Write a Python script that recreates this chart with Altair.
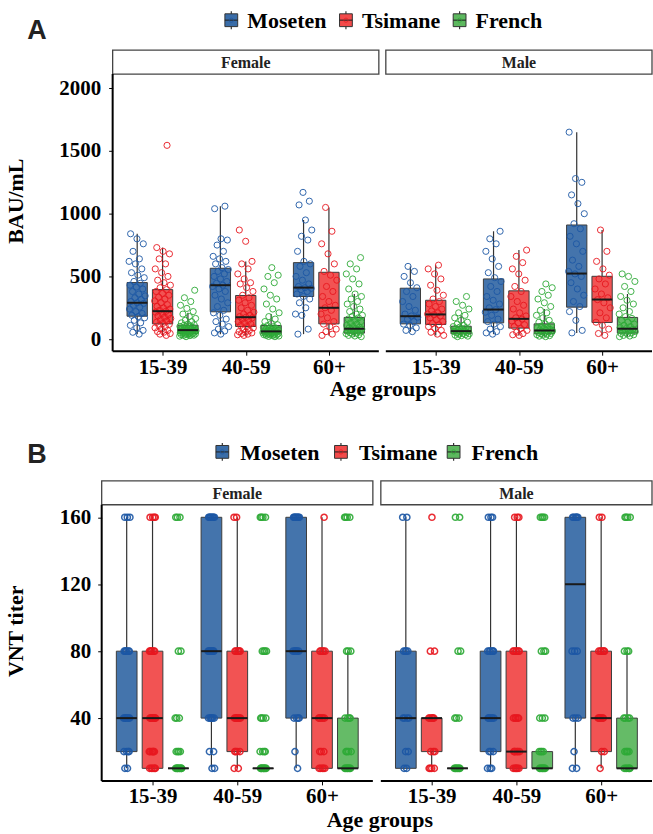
import altair as alt
import pandas as pd

SERIF = "Liberation Serif"
SANS = "Liberation Sans"

ages = ["15-39", "40-59", "60+"]
groups = ["Moseten", "Tsimane", "French"]
sexes = ["Female", "Male"]

box_colors = ["#3A6DA8", "#F24A4A", "#5DB85F"]
point_colors = ["#1C57A5", "#E8171F", "#2DAA36"]

# ---------------- Panel A : BAU/mL ----------------
# box statistics per sex, per age group: [Moseten, Tsimane, French]
a_q1 = {"Female": [[183, 122, 45], [218, 101, 43], [340, 122, 48]],
        "Male": [[122, 117, 43], [130, 88, 43], [255, 133, 48]]}
a_med = {"Female": [[290, 223, 72], [430, 175, 62], [411, 250, 83]],
         "Male": [[183, 197, 64], [236, 162, 69], [523, 316, 83]]}
a_q3 = {"Female": [[451, 395, 111], [565, 348, 109], [610, 533, 173]],
        "Male": [[406, 310, 103], [480, 385, 122], [910, 501, 173]]}
a_lo = {"Female": [[40, 30, 20], [40, 30, 20], [40, 30, 20]],
        "Male": [[60, 30, 20], [40, 30, 20], [50, 30, 20]]}
a_hi = {"Female": [[840, 730, 210], [1060, 620, 200], [950, 1050, 360]],
        "Male": [[580, 590, 190], [860, 710, 240], [1650, 870, 360]]}

a_pts_female_1539 = {
    "Moseten": [40, 55, 70, 90, 110, 130, 150, 170, 180, 190, 205, 220, 240, 255, 270, 285, 290, 300, 315,
                330, 345, 360, 380, 400, 415, 430, 445, 460, 490, 510, 530, 560, 600, 620, 640, 700, 760, 800, 840],
    "Tsimane": [30, 40, 45, 55, 60, 70, 80, 90, 100, 110, 118, 125, 135, 145, 155, 165, 175, 185, 195, 205, 215,
                222, 230, 240, 250, 262, 275, 290, 305, 320, 335, 350, 365, 380, 395, 410, 430, 450, 470, 500,
                530, 560, 600, 640, 680, 700, 730, 1545],
    "French": [20, 24, 28, 30, 32, 34, 36, 38, 40, 42, 44, 45, 46, 48, 50, 52, 54, 56, 58, 60, 62, 64, 66, 68, 70,
               72, 74, 76, 78, 80, 83, 86, 90, 94, 98, 102, 106, 110, 115, 120, 130, 140, 150, 165, 180, 200, 220,
               245, 270, 300, 330, 390],
}
a_pts_female_4059 = {
    "Moseten": [40, 50, 65, 80, 100, 120, 140, 160, 190, 210, 230, 260, 290, 320, 350, 380, 400, 420, 430, 445,
                460, 480, 500, 520, 540, 555, 570, 600, 620, 640, 660, 700, 750, 790, 800, 1040, 1060],
    "Tsimane": [30, 35, 40, 45, 50, 55, 60, 70, 80, 90, 100, 110, 120, 130, 140, 150, 160, 170, 175, 180, 190, 200,
                215, 230, 250, 270, 290, 310, 330, 350, 380, 410, 440, 450, 480, 520, 560, 600, 620, 780, 870],
    "French": [20, 22, 25, 28, 30, 32, 34, 36, 38, 40, 42, 44, 46, 48, 50, 52, 54, 56, 58, 60, 62, 65, 68, 72, 76,
               80, 85, 90, 95, 100, 108, 115, 125, 140, 160, 180, 210, 240, 280, 320, 350, 400, 450, 500, 510, 570],
}
a_pts_female_60 = {
    "Moseten": [40, 80, 190, 200, 250, 290, 320, 340, 360, 380, 395, 405, 410, 420, 440, 470, 500, 530, 580, 600,
                620, 700, 790, 820, 870, 950, 1070, 1100, 1170],
    "Tsimane": [30, 40, 60, 80, 100, 120, 140, 170, 200, 230, 250, 270, 300, 340, 380, 420, 470, 510, 540, 600,
                680, 760, 860, 1050],
    "French": [20, 25, 30, 35, 40, 45, 48, 52, 56, 60, 65, 70, 75, 80, 85, 90, 95, 100, 110, 120, 130, 140, 150,
               160, 170, 180, 190, 200, 220, 240, 260, 280, 300, 320, 340, 360, 400, 440, 480, 520, 560, 600, 650],
}
a_pts_male_1539 = {
    "Moseten": [60, 70, 90, 110, 120, 140, 160, 175, 185, 200, 230, 260, 300, 340, 380, 410, 450, 500, 540, 580],
    "Tsimane": [30, 40, 55, 70, 85, 100, 115, 125, 140, 155, 170, 185, 195, 200, 210, 225, 240, 260, 280, 300,
                320, 350, 390, 430, 480, 520, 560, 590],
    "French": [20, 24, 28, 32, 36, 40, 43, 46, 50, 54, 58, 62, 66, 70, 75, 80, 85, 90, 95, 100, 110, 120, 135, 150,
               170, 190, 210, 240, 270, 300, 340],
}
a_pts_male_4059 = {
    "Moseten": [40, 50, 60, 80, 100, 120, 140, 160, 190, 215, 235, 250, 280, 310, 340, 380, 420, 460, 490, 530,
                580, 640, 700, 760, 800, 860],
    "Tsimane": [30, 35, 45, 55, 70, 85, 100, 115, 130, 145, 160, 170, 185, 210, 240, 270, 300, 340, 380, 420, 470,
                520, 560, 610, 660, 710],
    "French": [20, 24, 28, 32, 36, 40, 43, 46, 50, 54, 58, 62, 66, 70, 74, 78, 84, 90, 96, 104, 112, 122, 135, 150,
               170, 190, 210, 230, 260, 290, 320, 350, 380, 410, 440],
}
a_pts_male_60 = {
    "Moseten": [50, 70, 150, 220, 260, 300, 350, 400, 450, 500, 520, 540, 580, 630, 700, 760, 820, 880, 920, 1000,
                1080, 1150, 1250, 1280, 1650],
    "Tsimane": [30, 45, 80, 110, 135, 170, 210, 250, 290, 315, 330, 360, 400, 440, 480, 510, 560, 620, 700, 870],
    "French": [20, 25, 30, 35, 40, 45, 50, 55, 60, 65, 70, 78, 85, 92, 100, 110, 120, 135, 150, 165, 180, 200, 220,
               250, 280, 310, 340, 380, 420, 460, 500, 520],
}
a_pts = {"Female": [a_pts_female_1539, a_pts_female_4059, a_pts_female_60],
         "Male": [a_pts_male_1539, a_pts_male_4059, a_pts_male_60]}

# ---------------- Panel B : VNT titer ----------------
b_levels = [10, 20, 40, 80, 160]
b_q1 = {"Female": [[20, 10, 10], [40, 20, 10], [40, 10, 10]],
        "Male": [[10, 20, 10], [20, 10, 10], [40, 20, 10]]}
b_med = {"Female": [[40, 40, 10], [80, 40, 10], [80, 40, 10]],
         "Male": [[40, 40, 10], [40, 20, 10], [120, 40, 10]]}
b_q3 = {"Female": [[80, 80, 10], [160, 80, 10], [160, 80, 40]],
        "Male": [[80, 40, 10], [80, 80, 20], [160, 80, 40]]}
b_lo = {"Female": [[10, 10, 10], [10, 10, 10], [10, 10, 10]],
        "Male": [[10, 10, 10], [10, 10, 10], [10, 10, 10]]}
b_hi = {"Female": [[160, 160, 10], [160, 160, 10], [160, 160, 80]],
        "Male": [[160, 40, 10], [160, 160, 20], [160, 160, 80]]}
# number of subjects at each titer level [10, 20, 40, 80, 160]
b_counts_female = [
    {"Moseten": [2, 4, 8, 6, 3], "Tsimane": [6, 6, 8, 6, 4], "French": [10, 4, 3, 2, 3]},
    {"Moseten": [2, 2, 6, 8, 8], "Tsimane": [2, 4, 8, 6, 2], "French": [10, 4, 4, 4, 4]},
    {"Moseten": [1, 1, 4, 6, 8], "Tsimane": [5, 3, 6, 5, 1], "French": [8, 4, 4, 3, 4]},
]
b_counts_male = [
    {"Moseten": [2, 2, 4, 4, 2], "Tsimane": [4, 3, 6, 2, 1], "French": [8, 0, 3, 2, 2]},
    {"Moseten": [3, 3, 6, 6, 3], "Tsimane": [6, 6, 5, 6, 3], "French": [8, 4, 3, 3, 4]},
    {"Moseten": [2, 1, 3, 3, 6], "Tsimane": [1, 2, 6, 6, 2], "French": [6, 4, 4, 3, 4]},
]
b_counts = {"Female": b_counts_female, "Male": b_counts_male}


def b_points(sex, ai, g):
    out = []
    for lev, n in zip(b_levels, b_counts[sex][ai][g]):
        out += [lev] * n
    return out


def make_df(sex, q1, med, q3, lo, hi, pts_fn):
    rows = []
    for ai, age in enumerate(ages):
        for gi, g in enumerate(groups):
            rows.append({"kind": "box", "sex": sex, "age": age, "group": g,
                         "q1": q1[sex][ai][gi], "med": med[sex][ai][gi], "q3": q3[sex][ai][gi],
                         "lo": lo[sex][ai][gi], "hi": hi[sex][ai][gi]})
            for v in pts_fn(sex, ai, g):
                rows.append({"kind": "pt", "sex": sex, "age": age, "group": g, "value": v})
    rows.append({"kind": "strip", "sex": sex})
    return pd.DataFrame(rows)


def legend_layers(letter, leg_x, leg_y, dx, let_x, let_y):
    fill = alt.Fill("group:N", scale=alt.Scale(domain=groups, range=box_colors), legend=None)
    stroke = alt.Stroke("group:N", scale=alt.Scale(domain=groups, range=point_colors), legend=None)
    out = []
    for g, gx in zip(groups, leg_x):
        d = pd.DataFrame({"group": [g]})
        out.append(alt.Chart(d).mark_rule(color="#333333", strokeWidth=1.2).encode(
            x=alt.value(gx), y=alt.value(leg_y - 9), y2=alt.value(leg_y + 9)))
        out.append(alt.Chart(d).mark_square(size=165, stroke="#333333", strokeWidth=1, opacity=1).encode(
            x=alt.value(gx), y=alt.value(leg_y), fill=fill))
        out.append(alt.Chart(d).mark_point(shape="stroke", size=165, strokeWidth=1.5, color="#222222").encode(
            x=alt.value(gx), y=alt.value(leg_y)))
        out.append(alt.Chart(d).mark_point(shape="circle", size=18, filled=False, strokeWidth=1).encode(
            x=alt.value(gx), y=alt.value(leg_y), stroke=stroke))
        out.append(alt.Chart(d).mark_text(align="left", baseline="middle", dx=dx, font=SERIF, fontSize=22,
                                          fontWeight="bold", color="black").encode(
            x=alt.value(gx), y=alt.value(leg_y + 1), text="group:N"))
    out.append(alt.Chart(pd.DataFrame({"t": [letter]})).mark_text(
        font=SANS, fontSize=27, fontWeight="bold", color="#222222", baseline="middle").encode(
        x=alt.value(let_x), y=alt.value(let_y), text="t:N"))
    return out


def one_panel(df, sex, W, Hp, xlo, ydom, ytop, yvals, ytitle, jw, extent, tpad, lpad, yoff, pt_width,
              extra, age_x, age_y):
    SH = 24
    H = SH + Hp
    first = sex == "Female"
    xs = alt.Scale(domain=[xlo, 3.6], nice=False, zero=False)
    ys = alt.Scale(domain=[ydom[0], ytop], nice=False, zero=False)
    xax = alt.Axis(values=[1, 2, 3], labelExpr="['15-39','40-59','60+'][datum.value - 1]", title=None,
                   grid=False, labelAngle=0, domain=False, tickColor="black", tickSize=4, labelPadding=1)
    if first:
        yax = alt.Axis(values=yvals, format="d", title=ytitle, grid=False, domain=False, tickColor="black",
                       tickSize=4, labelPadding=lpad, minExtent=extent, maxExtent=extent, titlePadding=tpad,
                       offset=yoff)
    else:
        yax = None
    fill = alt.Fill("group:N", scale=alt.Scale(domain=groups, range=box_colors), legend=None)
    stroke = alt.Stroke("group:N", scale=alt.Scale(domain=groups, range=point_colors), legend=None)

    base = alt.Chart(df).transform_calculate(
        pos="indexof(['15-39','40-59','60+'], datum.age) + 1 + "
            "(indexof(['Moseten','Tsimane','French'], datum.group) - 1) * 0.305"
    )
    boxes = base.transform_filter("datum.kind == 'box'").transform_calculate(
        b1="datum.pos - 0.122", b2="datum.pos + 0.122")
    wlo = boxes.mark_rule(color="#333333", strokeWidth=1.2).encode(
        x=alt.X("pos:Q", scale=xs, axis=xax), y=alt.Y("lo:Q", scale=ys, axis=yax), y2="q1:Q")
    whi = boxes.mark_rule(color="#333333", strokeWidth=1.2).encode(
        x=alt.X("pos:Q", scale=xs, axis=xax), y=alt.Y("q3:Q", scale=ys, axis=yax), y2="hi:Q")
    rect = boxes.mark_rect(stroke="#333333", strokeWidth=1, opacity=0.95).encode(
        x=alt.X("b1:Q", scale=xs, axis=xax), x2="b2:Q",
        y=alt.Y("q1:Q", scale=ys, axis=yax), y2="q3:Q", fill=fill)
    pts = base.transform_filter("datum.kind == 'pt'").transform_window(
        rn="row_number()").transform_calculate(
        px=f"datum.pos + ((datum.rn * 0.618034) % 1 - 0.5) * {jw}").mark_point(
        shape="circle", filled=False, size=38, strokeWidth=pt_width, opacity=0.9).encode(
        x=alt.X("px:Q", scale=xs, axis=xax), y=alt.Y("value:Q", scale=ys, axis=yax), stroke=stroke)
    medl = boxes.mark_rule(color="#1a1a1a", strokeWidth=2).encode(
        x=alt.X("b1:Q", scale=xs, axis=xax), x2="b2:Q", y=alt.Y("med:Q", scale=ys, axis=yax))
    strip = base.transform_filter("datum.kind == 'strip'")
    srect = strip.mark_rect(fill="white", stroke="#444444", strokeWidth=1.3).encode(
        x=alt.datum(0.4, scale=xs), x2=alt.datum(3.6),
        y=alt.datum(ydom[1], scale=ys), y2=alt.datum(ytop))
    stext = strip.mark_text(font=SERIF, fontSize=16, fontWeight="bold", color="#222222",
                            baseline="middle", dy=1).encode(
        x=alt.datum(2.0, scale=xs), y=alt.datum((ydom[1] + ytop) / 2, scale=ys), text="sex:N")
    xline = strip.mark_rule(color="black", strokeWidth=2).encode(
        x=alt.datum(0.4, scale=xs), x2=alt.datum(3.6), y=alt.datum(ydom[0], scale=ys))
    layers = [wlo, whi, rect, pts, medl, srect, stext, xline]
    if first:
        yline = strip.mark_rule(color="black", strokeWidth=2).encode(
            x=alt.datum(0.4, scale=xs), y=alt.datum(ydom[0], scale=ys), y2=alt.datum(ydom[1]))
        atitle = strip.mark_text(font=SERIF, fontSize=22, fontWeight="bold", color="black",
                                 baseline="middle").encode(
            x=alt.value(age_x), y=alt.value(age_y), text=alt.value("Age groups"))
        layers += [yline, atitle] + extra
    return alt.layer(*layers).properties(width=W, height=H)


def panel_row(q1, med, q3, lo, hi, pts_fn, Ws, Hp, xlos, ydom, ytop, yvals, ytitle, jw, extent, tpad,
              lpad, yoff, spacing, pt_width, extra, age_x, age_y):
    charts = []
    for sex, W, xlo in zip(sexes, Ws, xlos):
        df = make_df(sex, q1, med, q3, lo, hi, pts_fn)
        charts.append(one_panel(df, sex, W, Hp, xlo, ydom, ytop, yvals, ytitle, jw, extent, tpad, lpad, yoff,
                                pt_width, extra, age_x, age_y))
    return alt.hconcat(*charts, spacing=spacing, bounds="flush")


# Panel A: the shared left edge sits at x=101; panel A's axis starts 11 px further right
a_step = 267 / 3.2
row_a = panel_row(a_q1, a_med, a_q3, a_lo, a_hi, lambda s, ai, g: a_pts[s][ai][g],
                  [278, 267], 278, [0.4 - 11 / a_step, 0.4], [-96, 2113], 2304,
                  [0, 500, 1000, 1500, 2000], "BAU/mL", 0.2, 60, 25, 8, -11, 7, 1.0,
                  legend_layers("A", [130, 245, 359], -30, 16, -65, -19), 282, 340)
row_b = panel_row(b_q1, b_med, b_q3, b_lo, b_hi, b_points,
                  [272, 272], 277, [0.4, 0.4], [2.5, 167.5], 181.8, [40, 80, 120, 160], "VNT titer",
                  0.08, 50, 24, 7, 0, 8, 1.5,
                  legend_layers("B", [121, 240, 353], -29, 18, -65, -26), 279, 340)

chart = alt.vconcat(row_a, row_b, spacing=41).properties(
    padding={"left": 5, "top": 9, "right": 0, "bottom": 0}).configure_view(
    stroke=None).configure_axis(
    labelFont=SERIF, labelFontSize=21, labelFontWeight="bold", labelColor="black",
    titleFont=SERIF, titleFontSize=22, titleFontWeight="bold", titleColor="black")

chart.save("out.html", embed_options={"renderer": "svg", "actions": False})
